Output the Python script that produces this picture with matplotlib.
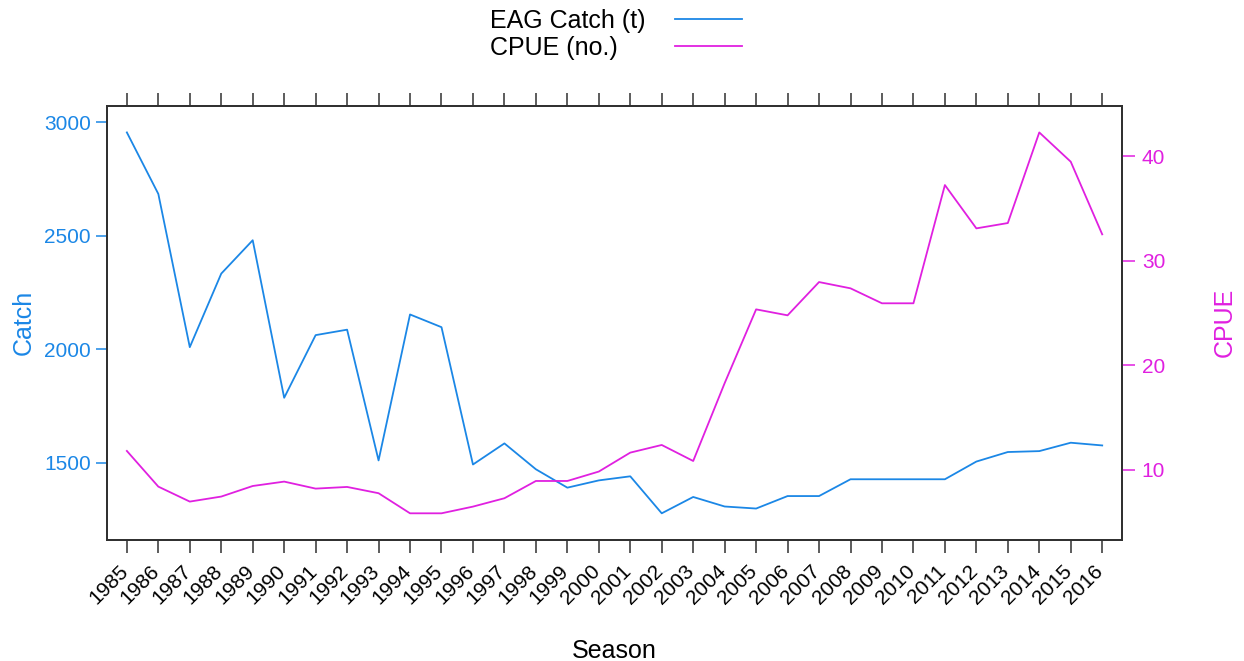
import matplotlib
matplotlib.use('Agg')
import matplotlib.pyplot as plt
import matplotlib.transforms as mtransforms

plt.rcParams['font.family'] = ['Liberation Sans', 'DejaVu Sans']

# data
seasons = list(range(1985, 2017))
catch = [2956, 2685, 2010, 2334, 2481, 1787, 2063, 2087, 1511, 2154,
         2098, 1493, 1586, 1472, 1391, 1423, 1441, 1278, 1350, 1308,
         1299, 1354, 1354, 1428, 1428, 1428, 1428, 1506, 1548, 1552,
         1589, 1577]
cpue = [11.82, 8.41, 6.98, 7.46, 8.47, 8.89, 8.22, 8.38, 7.78, 5.86,
        5.86, 6.50, 7.30, 8.95, 8.95, 9.85, 11.66, 12.39, 10.86, 18.3,
        25.35, 24.78, 27.96, 27.36, 25.93, 25.93, 37.23, 33.09, 33.60, 42.26,
        39.46, 32.52]
catch_ticks = [1500, 2000, 2500, 3000]
cpue_ticks = [10, 20, 30, 40]
series_labels = ['EAG Catch (t)', 'CPUE (no.)']

BLUE = '#1b87e6'
MAGENTA = '#e020e0'
FRAME = '#303030'


def padded(values, frac):
    lo, hi = min(values), max(values)
    pad = (hi - lo) * frac
    return lo - pad, hi + pad


fig = plt.figure(figsize=(12.44, 6.61), dpi=100)
ax = fig.add_axes([0.0863, 0.1831, 0.8154, 0.6569])
ax2 = ax.twinx()

l1, = ax.plot(seasons, catch, color=BLUE, lw=1.3)
l2, = ax2.plot(seasons, cpue, color=MAGENTA, lw=1.3)

ax.set_xlim(seasons[0] - 0.62, seasons[-1] + 0.62)
ax.set_ylim(*padded(catch, 0.07))
ax2.set_ylim(*padded(cpue, 0.07))

for a in (ax, ax2):
    for s in a.spines.values():
        s.set_color(FRAME)
        s.set_linewidth(1.3)

ax.set_xticks(seasons)
ax.set_xticklabels([str(s) for s in seasons], rotation=45, ha='right',
                   va='top', fontsize=15)
ax.tick_params(axis='x', which='both', top=True, bottom=True, direction='out',
               length=9.5, width=1.1, color=FRAME, pad=6)
offset = mtransforms.ScaledTranslation(5 / 100, 0, fig.dpi_scale_trans)
for lab in ax.get_xticklabels():
    lab.set_transform(lab.get_transform() + offset)

ax.set_yticks(catch_ticks)
ax.tick_params(axis='y', direction='out', length=8, width=1.1, color=BLUE,
               labelcolor=BLUE, labelsize=15, pad=4)
ax2.set_yticks(cpue_ticks)
ax2.tick_params(axis='y', direction='out', length=9.5, width=1.1,
                color=MAGENTA, labelcolor=MAGENTA, labelsize=15, pad=5)

ax.set_ylabel('Catch', color=BLUE, fontsize=18, labelpad=6)
ax2.set_ylabel('CPUE', color=MAGENTA, fontsize=18, labelpad=34)
ax.set_xlabel('Season', fontsize=18, labelpad=22)

# lattice-style key: left-aligned text column, line column to its right
leg_top = 1 - 9 / 661
leg_opts = dict(loc='upper left', frameon=False, fontsize=18,
                labelspacing=0.1, borderpad=0, borderaxespad=0)
text_leg = fig.legend([l1, l2], series_labels,
                      bbox_to_anchor=(490 / 1244, leg_top),
                      handlelength=0, handletextpad=0, **leg_opts)
for h in text_leg.legend_handles:
    h.set_visible(False)
line_leg = fig.legend([l1, l2], series_labels,
                      bbox_to_anchor=(675 / 1244, leg_top),
                      handlelength=2.67, handletextpad=0, **leg_opts)
for t in line_leg.get_texts():
    t.set_visible(False)

fig.savefig('out.png', dpi=100)
